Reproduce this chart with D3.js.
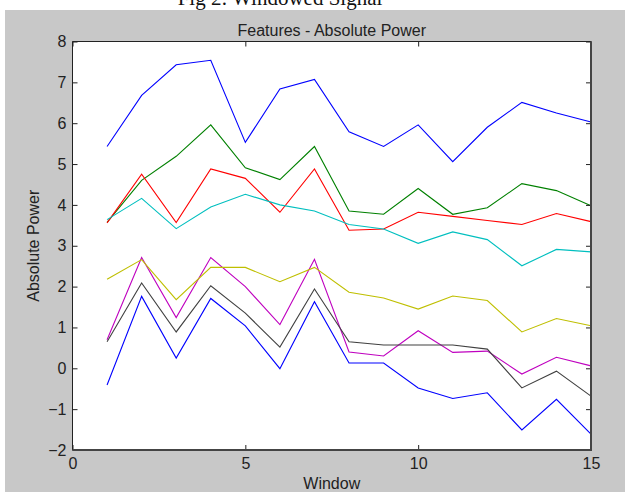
<!DOCTYPE html>
<html>
<head>
<meta charset="utf-8">
<script src="https://cdn.jsdelivr.net/npm/d3@7"></script>
<style>
    body { margin: 0; background: #ffffff; }
    svg { display: block; }
</style>
</head>
<body>
<svg width="625" height="492"></svg>
<script>
// Windows 1..15 on the x axis
const windows = [1, 2, 3, 4, 5, 6, 7, 8, 9, 10, 11, 12, 13, 14, 15];

// One list per feature line
const blueTop = [5.43, 6.68, 7.43, 7.54, 5.53, 6.84, 7.07, 5.79, 5.43, 5.96, 5.06, 5.90, 6.51, 6.25, 6.03];
const green = [3.57, 4.60, 5.19, 5.96, 4.91, 4.62, 5.43, 3.85, 3.77, 4.40, 3.77, 3.93, 4.52, 4.35, 3.98];
const red = [3.56, 4.75, 3.57, 4.88, 4.65, 3.82, 4.88, 3.38, 3.41, 3.82, 3.72, 3.62, 3.52, 3.79, 3.59];
const cyan = [3.64, 4.16, 3.42, 3.95, 4.26, 4.00, 3.85, 3.52, 3.41, 3.06, 3.34, 3.15, 2.51, 2.91, 2.85];
const magenta = [0.70, 2.71, 1.24, 2.71, 2.00, 1.07, 2.67, 0.40, 0.30, 0.92, 0.39, 0.42, -0.14, 0.27, 0.06];
const yellow = [2.18, 2.66, 1.68, 2.47, 2.47, 2.12, 2.47, 1.86, 1.72, 1.45, 1.77, 1.66, 0.89, 1.22, 1.04];
const gray = [0.65, 2.09, 0.89, 2.02, 1.35, 0.52, 1.94, 0.65, 0.57, 0.57, 0.57, 0.47, -0.48, -0.07, -0.68];
const blueLow = [-0.41, 1.76, 0.25, 1.71, 1.04, -0.01, 1.63, 0.13, 0.13, -0.48, -0.74, -0.60, -1.51, -0.76, -1.61];

const seriesList = [blueTop, green, red, cyan, magenta, yellow, gray, blueLow];
const seriesColors = ["#0000ff", "#008000", "#ff0000", "#00bfbf", "#bf00bf", "#bfbf00", "#404040", "#0000ff"];

const xTicks = [0, 5, 10, 15];
const yTicks = [-2, -1, 0, 1, 2, 3, 4, 5, 6, 7, 8];

let svg = d3.select("svg");
const font = "'Liberation Sans', Arial, sans-serif";

// Grey figure background (page cut at the top)
svg.append("rect")
    .attr("x", 5).attr("y", 10)
    .attr("width", 620).attr("height", 482)
    .attr("fill", "#c8c8c8");

// Caption of the page, mostly cut off
svg.append("text")
    .attr("x", 280).attr("y", 5)
    .attr("text-anchor", "middle")
    .attr("font-family", "'Liberation Serif', 'Times New Roman', serif")
    .attr("font-size", "21px")
    .attr("fill", "#111")
    .text("Fig 2: Windowed Signal");

// Scales for the plot box
let x = d3.scaleLinear().domain([0, 15]).range([72.5, 591]);
let y = d3.scaleLinear().domain([-2, 8]).range([450, 41.5]);

// White plot area
svg.append("rect")
    .attr("x", x(0)).attr("y", y(8))
    .attr("width", x(15) - x(0)).attr("height", y(-2) - y(8))
    .attr("fill", "#ffffff");

// Lines
let line = d3.line()
    .x((d, i) => x(windows[i]))
    .y(d => y(d));

svg.append("g")
    .selectAll("path")
    .data(seriesList)
    .enter().append("path")
    .attr("d", d => line(d))
    .attr("fill", "none")
    .attr("stroke", (d, i) => seriesColors[i])
    .attr("stroke-width", 1.1);

// Axes with inward ticks on all four sides
function styleAxis(g) {
    g.select(".domain").remove();
    g.selectAll("line").attr("stroke", "#222");
    g.selectAll("text")
        .attr("font-family", font)
        .attr("font-size", "16px")
        .attr("fill", "#222");
}

svg.append("g")
    .attr("transform", "translate(0," + y(-2) + ")")
    .call(d3.axisBottom(x).tickValues(xTicks).tickSize(-5).tickPadding(8))
    .call(styleAxis);

svg.append("g")
    .attr("transform", "translate(0," + y(8) + ")")
    .call(d3.axisTop(x).tickValues(xTicks).tickSize(-5).tickFormat(""))
    .call(styleAxis);

svg.append("g")
    .attr("transform", "translate(" + x(0) + ",0)")
    .call(d3.axisLeft(y).tickValues(yTicks).tickSize(-5).tickPadding(6))
    .call(styleAxis);

svg.append("g")
    .attr("transform", "translate(" + x(15) + ",0)")
    .call(d3.axisRight(y).tickValues(yTicks).tickSize(-5).tickFormat(""))
    .call(styleAxis);

// Box: thin on top/left, heavier on right/bottom
svg.append("path")
    .attr("d", "M" + x(0) + "," + y(-2) + "V" + y(8) + "H" + x(15))
    .attr("fill", "none")
    .attr("stroke", "#222")
    .attr("stroke-width", 1);
svg.append("path")
    .attr("d", "M" + x(0) + "," + y(-2) + "H" + x(15) + "V" + y(8))
    .attr("fill", "none")
    .attr("stroke", "#444")
    .attr("stroke-width", 2);

// Title and axis labels
svg.append("text")
    .attr("x", (x(0) + x(15)) / 2).attr("y", 36)
    .attr("text-anchor", "middle")
    .attr("font-family", font)
    .attr("font-size", "16px")
    .attr("fill", "#222")
    .text("Features - Absolute Power");

svg.append("text")
    .attr("x", (x(0) + x(15)) / 2).attr("y", 489)
    .attr("text-anchor", "middle")
    .attr("font-family", font)
    .attr("font-size", "16px")
    .attr("fill", "#222")
    .text("Window");

svg.append("text")
    .attr("transform", "translate(39," + (y(8) + y(-2)) / 2 + ") rotate(-90)")
    .attr("text-anchor", "middle")
    .attr("font-family", font)
    .attr("font-size", "16px")
    .attr("fill", "#222")
    .text("Absolute Power");
</script>
</body>
</html>
